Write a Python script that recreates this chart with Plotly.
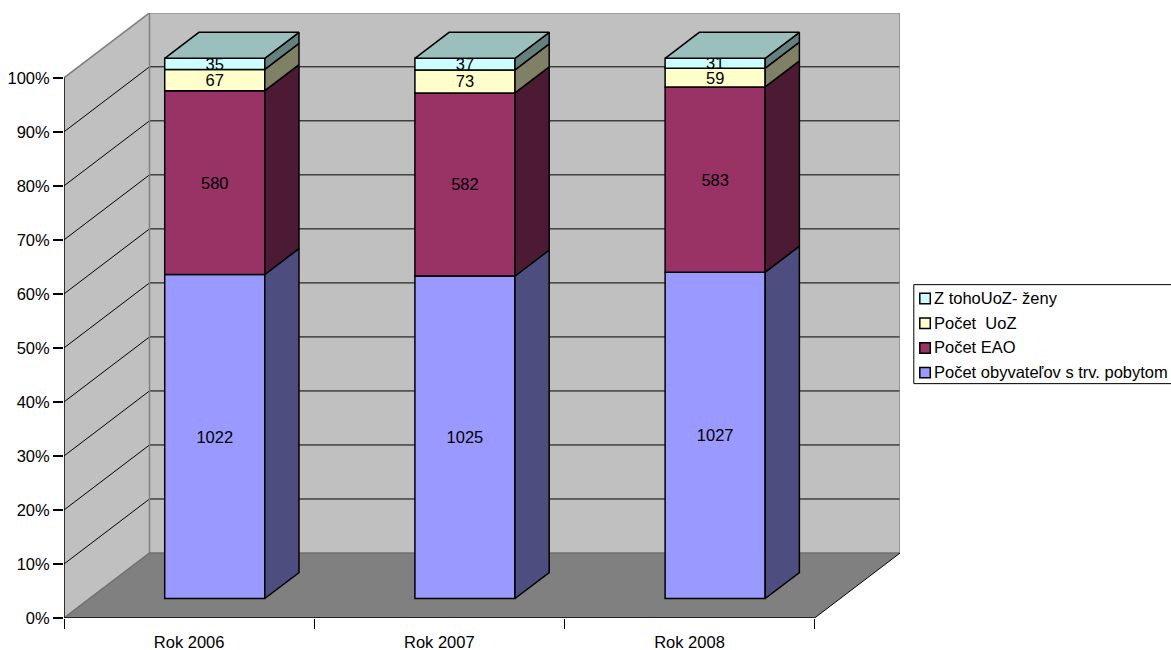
import plotly.graph_objects as go

categories = ["Rok 2006", "Rok 2007", "Rok 2008"]
series_names = ["Počet obyvateľov s trv. pobytom", "Počet EAO", "Počet  UoZ", "Z tohoUoZ- ženy"]
obyvatelia = [1022, 1025, 1027]
eao = [580, 582, 583]
uoz = [67, 73, 59]
zeny = [35, 37, 31]
face_colors = ["#9999FF", "#993366", "#FFFFCC", "#CCFFFF"]
side_colors = ["#4D4D80", "#4D1A33", "#808066", "#668080"]
top_color = "#9ABFBD"
y_ticks = list(range(0, 101, 10))
y_tick_labels = [f"{t}%" for t in y_ticks]

W, H = 1171, 650
X0, X1, Y0, Y1 = 63.7, 899.7, 617.7, 12.6   # plot box in pixels
UNIT_X, UNIT_Y = 250.2, 5.403               # px per category, px per percent
DX, DY = 85.5 / UNIT_X, 65.0 / UNIT_Y       # chart depth in data units
BAR_W = 0.4
NEAR, FAR = 0.3, 0.7                        # bar depth span
XR = [0.5, 0.5 + (X1 - X0) / UNIT_X]
YR = [0, (Y0 - Y1) / UNIT_Y]
FONT = "Liberation Sans"
FS = 16.5

series = [obyvatelia, eao, uoz, zeny]
totals = [sum(s[i] for s in series) for i in range(3)]
pct = [[s[i] / totals[i] * 100 for i in range(3)] for s in series]
centers = [1, 2, 3]

fig = go.Figure()

# front faces
cum = [0.0, 0.0, 0.0]
bases = []
for k, name in enumerate(series_names):
    bases.append(list(cum))
    fig.add_trace(go.Bar(
        x=[c + NEAR * DX for c in centers], y=pct[k],
        base=[b + NEAR * DY for b in cum], width=BAR_W, name=name,
        marker=dict(color=face_colors[k], line=dict(color="black", width=1.5)),
        text=[str(v) for v in series[k]], textposition="inside", textangle=0,
        insidetextanchor="middle", constraintext="none",
        insidetextfont=dict(family=FONT, size=FS, color="black"),
        showlegend=False, hoverinfo="skip",
    ))
    cum = [cum[i] + pct[k][i] for i in range(3)]

# side and top faces
dxb, dyb = (FAR - NEAR) * DX, (FAR - NEAR) * DY
for i, c in enumerate(centers):
    xl = c + NEAR * DX - BAR_W / 2
    xr = xl + BAR_W
    for k in range(4):
        lo = bases[k][i] + NEAR * DY
        hi = lo + pct[k][i]
        fig.add_trace(go.Scatter(
            x=[xr, xr + dxb, xr + dxb, xr, xr],
            y=[lo, lo + dyb, hi + dyb, hi, lo],
            mode="lines", fill="toself", fillcolor=side_colors[k],
            line=dict(color="black", width=1.5), showlegend=False, hoverinfo="skip",
        ))
    top = 100 + NEAR * DY
    fig.add_trace(go.Scatter(
        x=[xl, xr, xr + dxb, xl + dxb, xl],
        y=[top, top, top + dyb, top + dyb, top],
        mode="lines", fill="toself", fillcolor=top_color,
        line=dict(color="black", width=1.5), showlegend=False, hoverinfo="skip",
    ))

# walls, floor, grid
shapes = []
def poly(xs, ys, fill=None, line=None, w=1.0):
    path = "M" + "L".join(f"{x},{y}" for x, y in zip(xs, ys))
    if fill:
        path += "Z"
    shapes.append(dict(type="path", path=path, xref="x", yref="y", layer="below",
                       fillcolor=fill or "rgba(0,0,0,0)",
                       line=dict(color=line or "rgba(0,0,0,0)", width=w if line else 0)))

XL, XF = 0.5, 3.5
XB0, XB1 = XL + DX, XF + DX
poly([XB0, XB1, XB1, XB0], [DY, DY, 100 + DY, 100 + DY], fill="#C0C0C0")
poly([XL, XB0, XB0, XL], [0, DY, 100 + DY, 100], fill="#C0C0C0")
poly([XL, XF, XB1, XB0], [0, 0, DY, DY], fill="#808080")
for t in y_ticks[1:-1]:
    poly([XL, XB0, XB1], [t, t + DY, t + DY], line="black", w=1)
poly([XL, XB0, XB1, XB1], [100, 100 + DY, 100 + DY, DY], line="#808080", w=1.5)
poly([XB0, XB0], [DY, 100 + DY], line="#808080", w=1.5)
poly([XL, XB0, XB1], [0, DY, DY], line="#707070", w=1.5)
poly([XF, XB1], [0, DY], line="black", w=1)
poly([XL, XL], [0, 100], line="black", w=1.5)
poly([XL, XF], [0, 0], line="#222222", w=2)

# legend
def px(x):
    return (x - X0) / (X1 - X0)
def py(y):
    return (Y0 - y) / (Y0 - Y1)

shapes.append(dict(type="rect", xref="paper", yref="paper", x0=px(913.5), x1=px(1200),
                   y0=py(383.3), y1=py(284.3), line=dict(color="black", width=1),
                   fillcolor="white"))
annotations = []
for row, k in enumerate([3, 2, 1, 0]):
    yc = 298.2 + row * 24.7
    shapes.append(dict(type="rect", xref="paper", yref="paper", x0=px(919.5), x1=px(930),
                       y0=py(yc + 5.2), y1=py(yc - 5.2), fillcolor=face_colors[k],
                       line=dict(color="black", width=1.5)))
    annotations.append(dict(xref="paper", yref="paper", x=px(932.5), y=py(yc - 0.5), text=series_names[k],
                            showarrow=False, xanchor="left", yanchor="middle",
                            borderpad=0, font=dict(family=FONT, size=FS, color="black")))

fig.update_layout(
    width=W, height=H, autosize=False, barmode="overlay",
    margin=dict(l=X0, r=W - X1, t=Y1, b=H - Y0, pad=0, autoexpand=False),
    paper_bgcolor="white", plot_bgcolor="rgba(0,0,0,0)",
    font=dict(family=FONT, size=FS, color="black"),
    showlegend=False, shapes=shapes, annotations=annotations,
    xaxis=dict(range=XR, tickmode="array", tickvals=centers, ticktext=categories, ticks="",
               automargin=False, showgrid=False, zeroline=False, showline=False, ticklabelstandoff=12,
               minor=dict(tickmode="array", tickvals=[0.5, 1.5, 2.5, 3.5], ticks="outside",
                          ticklen=10, tickcolor="black", tickwidth=1, showgrid=False)),
    yaxis=dict(range=YR, tickmode="array", tickvals=y_ticks, ticktext=y_tick_labels, ticks="outside",
               automargin=False, ticklen=10, tickcolor="black", tickwidth=1.5, showgrid=False,
               zeroline=False, showline=False),
)

fig.write_html("out.html", config={"displayModeBar": False},
               post_script="document.body.style.margin='0';document.body.style.overflow='hidden';")
